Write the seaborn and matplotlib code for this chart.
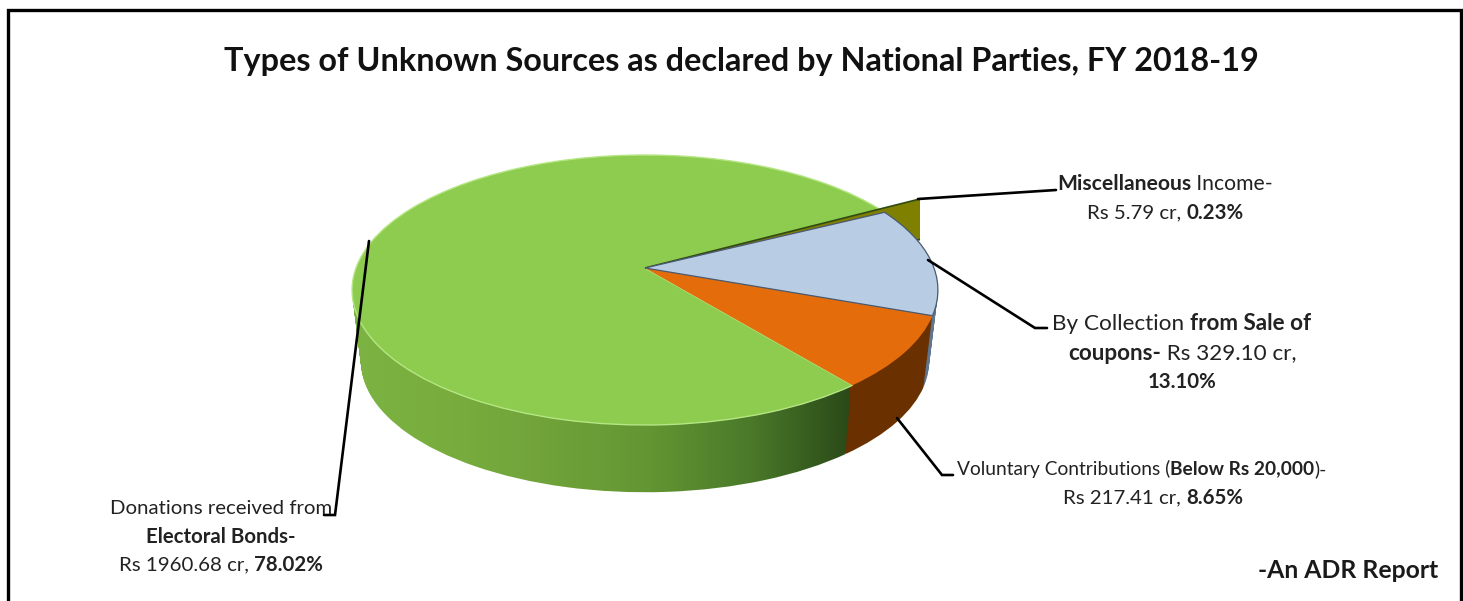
#!/usr/bin/env python
"""Types of unknown sources declared by national parties, FY 2018-19."""

import matplotlib.pyplot as plt
from matplotlib.patches import Rectangle
from matplotlib.path import Path
from matplotlib.transforms import Transform
import numpy as np
import seaborn as sns

# Values in Rs crore, in the order the slices run anticlockwise
sources = ['Voluntary Contributions', 'Sale of coupons', 'Miscellaneous', 'Electoral Bonds']
amounts = [217.41, 329.10, 5.79, 1960.68]

title = 'Types of Unknown Sources as declared by National Parties, FY 2018-19'
credit = '-An ADR Report'

# (centre x, baseline-centre y, font size, [(text, bold), ...]) in picture pixels
label_lines = [
    (1165, 184, 15.2, [('Miscellaneous', True), (' Income-', False)]),
    (1165, 213, 14.7, [('Rs 5.79 cr, ', False), ('0.23%', True)]),
    (1182, 324, 16.2, [('By Collection ', False), ('from Sale of', True)]),
    (1182, 353, 16.2, [('coupons-', True), (' Rs 329.10 cr,', False)]),
    (1182, 382, 14.7, [('13.10%', True)]),
    (1142, 469, 13.8, [('Voluntary Contributions (', False), ('Below Rs 20,000', True), (')-', False)]),
    (1153, 498, 14.7, [('Rs 217.41 cr, ', False), ('8.65%', True)]),
    (221, 509, 14.7, [('Donations received from', False)]),
    (221, 537, 14.7, [('Electoral Bonds-', True)]),
    (221, 565, 14.7, [('Rs 1960.68 cr, ', False), ('78.02%', True)]),
]

leaders = [
    ([918, 1056], [199, 190]),
    ([928, 1035, 1047], [260, 328, 328]),
    ([897, 942, 953], [418, 475, 475]),
    ([369, 335, 324], [241, 515, 515]),
]

WIDTH, HEIGHT = 1463, 601
START_ANGLE = -51.2
WALL_STEPS = np.arange(72, 0, -2)

top_colors = sns.color_palette(['#e46c0a', '#b8cce4', '#7f7f00', '#8dcc4e'])
wall_colors = sns.color_palette(['#6b3000', '#5f7590', '#4f4f00', '#6ea03a'])
green_wall = sns.blend_palette(['#7cb342', '#78ad3e', '#70a23a', '#639533', '#4a7a2a', '#2b4a18'],
                               as_cmap=True)


class TiltedDisc(Transform):
    """Perspective view of the unit disc, in picture pixels."""
    input_dims = 2
    output_dims = 2

    def __init__(self, drop=0.0):
        super().__init__()
        self.drop = drop
        self.shrink = 1 - 0.00042 * drop

    def transform_non_affine(self, values):
        x, y = np.asarray(values, dtype=float).T
        w = 1 + 0.163 * y
        px = 645 + self.shrink * 289 * x / w
        py = 268 + self.drop - self.shrink * 131.4 * y / w
        return np.column_stack([px, py])


def draw_pie(ax, colors, drop, zorder):
    wedges = ax.pie(amounts, colors=colors, startangle=START_ANGLE, radius=1,
                    wedgeprops={'linewidth': 0, 'zorder': zorder})[0]
    view = TiltedDisc(drop)
    for w in wedges:
        w.set_transform(view + ax.transData)
    return wedges, view


def draw_line(ax, renderer, cx, y, segments, size):
    """Write one centred line whose pieces may be bold."""
    parts = [ax.text(0, y, s, fontsize=size, color='#222222', va='center', ha='left',
                     fontweight='bold' if bold else 'normal', zorder=10)
             for s, bold in segments]
    # trailing spaces are not measured, so go by advance of the text with a stop after it
    widths = []
    for part, (s, bold) in zip(parts, segments):
        probe = ax.text(0, y, s + '.', fontsize=size, va='center',
                        fontweight='bold' if bold else 'normal')
        dot = ax.text(0, y, '.', fontsize=size, va='center',
                      fontweight='bold' if bold else 'normal')
        widths.append(probe.get_window_extent(renderer).width - dot.get_window_extent(renderer).width)
        probe.remove()
        dot.remove()
    x = cx - sum(widths) / 2
    for part, width in zip(parts, widths):
        part.set_x(x)
        x += width


sns.set_theme(style='white')
plt.rcParams['font.family'] = ['Lato', 'DejaVu Sans']

fig = plt.figure(figsize=(WIDTH / 100, HEIGHT / 100), dpi=100, facecolor='white')
ax = fig.add_axes([0, 0, 1, 1])

# side wall, from the bottom layer up
green_layers = []
for drop in WALL_STEPS:
    wedges, view = draw_pie(ax, wall_colors, drop, 1)
    wedges[2].set_visible(False)
    wedges[3].set_visible(False)
    green_layers.append(view.transform_path(wedges[3].get_path()))

shade = ax.imshow(np.linspace(0, 1, 256)[None, :], extent=(350, 850, HEIGHT, 100), cmap=green_wall,
                  aspect='auto', zorder=2)
shade.set_clip_path(Path.make_compound_path(*green_layers), ax.transData)

# top face
wedges, view = draw_pie(ax, top_colors, 0, 3)
orange, blue, misc, green = wedges
green.set(edgecolor='#b5e683', linewidth=1.0, zorder=3)
orange.set(zorder=5)
blue.set(edgecolor='#4a5a70', linewidth=0.9, zorder=6)

# the reference shows this sliver wider than its share, reaching out behind the blue slice
misc.set_radius(1.24)
misc.set_theta1(12.8)
misc.set_theta2(misc.theta2 + 1)
misc.set(edgecolor='#2f4a14', linewidth=1.2, zorder=4)
misc.set_clip_on(True)
misc.set_clip_path(Rectangle((0, 0), 920, HEIGHT, transform=ax.transData))

for xs, ys in leaders:
    ax.plot(xs, ys, color='black', linewidth=1.9, solid_joinstyle='miter', zorder=8)

# frame, open at the bottom edge
ax.plot([8, 8, 1461, 1461], [HEIGHT, 10, 10, HEIGHT], color='black', linewidth=2.4,
        solid_joinstyle='miter', zorder=9)

ax.set_aspect('auto')
ax.set_xlim(0, WIDTH)
ax.set_ylim(HEIGHT, 0)
ax.axis('off')

renderer = fig.canvas.get_renderer()
ax.text(741, 61, title, fontsize=23.3, fontweight='bold', color='#111111', ha='center', va='center')
for cx, y, size, segments in label_lines:
    draw_line(ax, renderer, cx, y, segments, size)
ax.text(1438, 571, credit, fontsize=17.8, fontweight='bold', color='#1a1a1a', ha='right', va='center')

fig.savefig('out.png', dpi=100, facecolor='white')
plt.close(fig)
